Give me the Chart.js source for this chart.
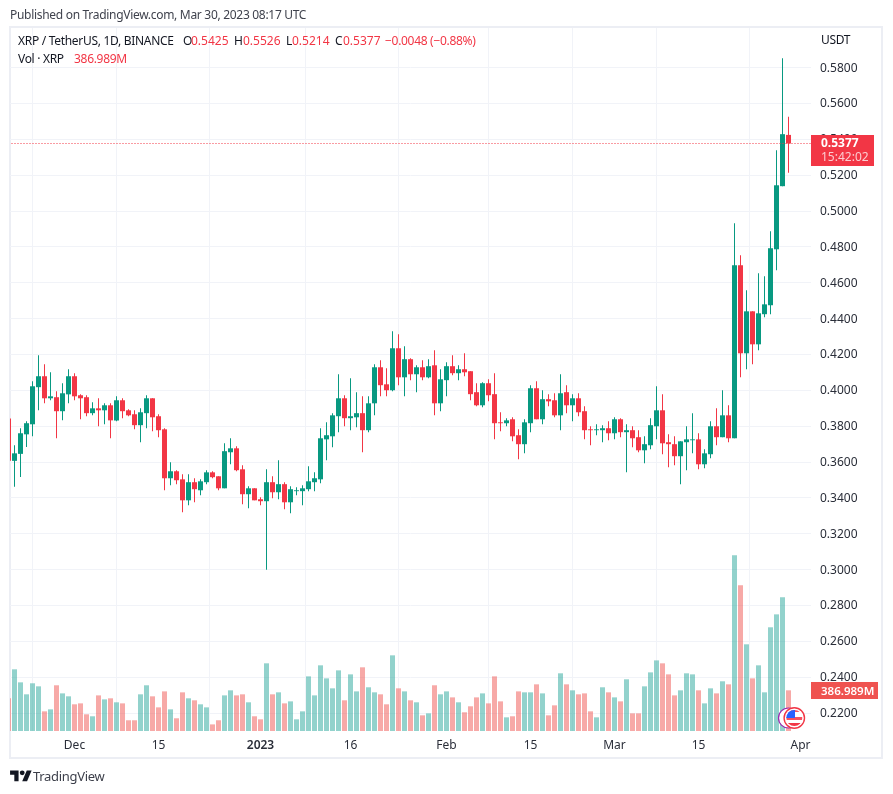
<!DOCTYPE html>
<html>
<head>
<meta charset="utf-8">
<title>XRP / TetherUS</title>
<script src="https://cdn.jsdelivr.net/npm/chart.js@4"></script>
<style>
	html, body { margin: 0; padding: 0; background: #fff; }
	body { width: 893px; height: 794px; position: relative; overflow: hidden; font-family: "Noto Sans", sans-serif; color: #131722; }
	#chart { position: absolute; left: 0; top: 0; }
	#frame { position: absolute; left: 9px; top: 26px; width: 870px; height: 729px; border: 2px solid #eceef4; }
	.t { position: absolute; font-size: 12px; line-height: 16px; white-space: nowrap; }
	.n { letter-spacing: -0.3px; }
	.up { color: #f23645; }
	#flag { position: absolute; left: 777px; top: 705px; }
	#logo { position: absolute; left: 10px; top: 768px; }
</style>
</head>
<body>
<div id="frame"></div>
<canvas id="chart" width="893" height="794"></canvas>

<div class="t n" style="left:10px;top:7px;color:#3f424d">Published on TradingView.com, Mar 30, 2023 08:17 UTC</div>
<div class="t n" style="left:18px;top:33px">XRP / TetherUS, 1D, BINANCE</div>
<div class="t" style="left:183px;top:33px">O</div>
<div class="t up" style="left:191px;top:33px">0.5425</div>
<div class="t" style="left:234px;top:33px">H</div>
<div class="t up" style="left:243px;top:33px">0.5526</div>
<div class="t" style="left:286px;top:33px">L</div>
<div class="t up" style="left:292px;top:33px">0.5214</div>
<div class="t" style="left:335px;top:33px">C</div>
<div class="t up" style="left:343px;top:33px">0.5377</div>
<div class="t n up" style="left:385px;top:33px">−0.0048 (−0.88%)</div>
<div class="t n" style="left:18px;top:51px">Vol · XRP</div>
<div class="t n up" style="left:74px;top:51px">386.989M</div>
<div class="t n" style="left:821px;top:32px">USDT</div>

<svg id="flag" width="32" height="26" viewBox="0 0 32 26">
	<circle cx="11.5" cy="13" r="10" fill="#fff" stroke="#9c27b0" stroke-width="1.2"/>
	<circle cx="17.3" cy="13" r="10.2" fill="#fff" stroke="#f23645" stroke-width="1.4"/>
	<clipPath id="fc"><circle cx="17.3" cy="13" r="8"/></clipPath>
	<g clip-path="url(#fc)">
		<rect x="8" y="12" width="18" height="3" fill="#f7525f"/>
		<rect x="8" y="18" width="18" height="3" fill="#f23645"/>
		<rect x="8" y="4" width="18" height="3" fill="#f7525f"/>
		<rect x="8" y="4" width="10" height="9" fill="#2962ff"/>
	</g>
</svg>

<svg id="logo" width="22" height="17" viewBox="0 0 36 28">
	<path d="M14 22H7V11H0V4h14v18zM28 22h-8l7.5-18h8L28 22z" fill="#131722"/>
	<circle cx="20" cy="8" r="4" fill="#131722"/>
</svg>
<div class="t n" style="left:33px;top:767px;font-size:13px;line-height:18px;color:#3c3f4a">TradingView</div>

<script>
// one entry per day, first one is Nov 20 (cut off by the left edge)
const opens = [
	0.3843, 0.3607, 0.3646, 0.3755, 0.3811, 0.4018, 0.4079, 0.3956, 0.3962, 0.3884, 0.3978, 0.4079, 0.3973, 0.3962,
	0.3873, 0.3900, 0.3889, 0.3917, 0.3832, 0.3945, 0.3889, 0.3867, 0.3806, 0.3873, 0.3956, 0.3856, 0.3783, 0.3510,
	0.3549, 0.3504, 0.3387, 0.3488, 0.3443, 0.3488, 0.3543, 0.3521, 0.3454, 0.3655, 0.3677, 0.3560, 0.3421, 0.3454,
	0.3393, 0.3382, 0.3488, 0.3432, 0.3477, 0.3376, 0.3438, 0.3438, 0.3449, 0.3488, 0.3504, 0.3727, 0.3744, 0.3856,
	0.3956, 0.3845, 0.3850, 0.3873, 0.3778, 0.3928, 0.4129, 0.4034, 0.4001, 0.4235, 0.4073, 0.4174, 0.4090, 0.4129,
	0.4073, 0.4140, 0.3928, 0.4057, 0.4135, 0.4096, 0.4118, 0.4107, 0.3990, 0.3917, 0.4040, 0.3979, 0.3822, 0.3817,
	0.3839, 0.3750, 0.3700, 0.3817, 0.4012, 0.3839, 0.3951, 0.3945, 0.3861, 0.3990, 0.3917, 0.3956, 0.3884, 0.3783,
	0.3778, 0.3778, 0.3789, 0.3761, 0.3839, 0.3767, 0.3778, 0.3739, 0.3666, 0.3694, 0.3800, 0.3889, 0.3711, 0.3700,
	0.3633, 0.3711, 0.3722, 0.3727, 0.3588, 0.3644, 0.3800, 0.3739, 0.3861, 0.3733, 0.4698, 0.4207, 0.4441, 0.4257,
	0.4425, 0.4475, 0.4787, 0.5139, 0.5425
];
const highs = [
	0.3843, 0.3694, 0.3789, 0.3828, 0.4051, 0.4196, 0.4146, 0.4101, 0.3995, 0.4040, 0.4118, 0.4096, 0.3978, 0.3973,
	0.3934, 0.3956, 0.3928, 0.3928, 0.3967, 0.3956, 0.3895, 0.3889, 0.3900, 0.3973, 0.3956, 0.3867, 0.3789, 0.3599,
	0.3555, 0.3532, 0.3532, 0.3510, 0.3504, 0.3555, 0.3549, 0.3521, 0.3705, 0.3733, 0.3688, 0.3583, 0.3465, 0.3454,
	0.3404, 0.3560, 0.3521, 0.3610, 0.3488, 0.3465, 0.3460, 0.3471, 0.3577, 0.3544, 0.3789, 0.3822, 0.3873, 0.4090,
	0.3973, 0.4068, 0.3990, 0.3967, 0.3967, 0.4146, 0.4168, 0.4123, 0.4330, 0.4313, 0.4246, 0.4179, 0.4140, 0.4168,
	0.4174, 0.4224, 0.4118, 0.4157, 0.4196, 0.4140, 0.4207, 0.4107, 0.4040, 0.4045, 0.4062, 0.4096, 0.3878, 0.3845,
	0.3850, 0.3783, 0.3839, 0.4029, 0.4051, 0.4001, 0.3978, 0.3984, 0.4090, 0.4029, 0.3978, 0.3984, 0.3912, 0.3800,
	0.3811, 0.3806, 0.3828, 0.3850, 0.3845, 0.3811, 0.3800, 0.3778, 0.3744, 0.3845, 0.4023, 0.3978, 0.3755, 0.3744,
	0.3716, 0.3800, 0.3873, 0.3761, 0.3672, 0.3828, 0.3900, 0.4001, 0.3917, 0.4932, 0.4754, 0.4558, 0.4441, 0.4653,
	0.4637, 0.4888, 0.5339, 0.5853, 0.5526
];
const lows = [
	0.3607, 0.3462, 0.3517, 0.3685, 0.3744, 0.3889, 0.3928, 0.3945, 0.3733, 0.3833, 0.3928, 0.3945, 0.3839, 0.3856,
	0.3861, 0.3800, 0.3811, 0.3733, 0.3828, 0.3845, 0.3856, 0.3783, 0.3711, 0.3789, 0.3772, 0.3739, 0.3443, 0.3471,
	0.3477, 0.3320, 0.3359, 0.3376, 0.3415, 0.3477, 0.3510, 0.3443, 0.3454, 0.3588, 0.3549, 0.3365, 0.3343, 0.3387,
	0.3359, 0.3000, 0.3399, 0.3393, 0.3337, 0.3315, 0.3415, 0.3360, 0.3438, 0.3438, 0.3482, 0.3610, 0.3683, 0.3767,
	0.3800, 0.3778, 0.3795, 0.3655, 0.3767, 0.3861, 0.3967, 0.3967, 0.3995, 0.4029, 0.3967, 0.4057, 0.3990, 0.4057,
	0.4068, 0.3861, 0.3884, 0.3967, 0.4084, 0.4057, 0.4079, 0.3945, 0.3912, 0.3906, 0.3939, 0.3727, 0.3772, 0.3800,
	0.3716, 0.3616, 0.3649, 0.3767, 0.3839, 0.3811, 0.3912, 0.3850, 0.3778, 0.3873, 0.3828, 0.3856, 0.3727, 0.3694,
	0.3750, 0.3711, 0.3722, 0.3727, 0.3739, 0.3543, 0.3683, 0.3655, 0.3594, 0.3672, 0.3727, 0.3644, 0.3571, 0.3583,
	0.3477, 0.3555, 0.3649, 0.3560, 0.3566, 0.3622, 0.3694, 0.3739, 0.3711, 0.3733, 0.4073, 0.4118, 0.4146, 0.4224,
	0.4408, 0.4425, 0.4670, 0.5139, 0.5214
];
const closes = [
	0.3607, 0.3649, 0.3761, 0.3817, 0.4023, 0.4079, 0.3956, 0.3967, 0.3884, 0.3984, 0.4079, 0.3967, 0.3956, 0.3873,
	0.3900, 0.3889, 0.3917, 0.3833, 0.3945, 0.3884, 0.3861, 0.3806, 0.3878, 0.3956, 0.3850, 0.3778, 0.3510, 0.3549,
	0.3499, 0.3387, 0.3488, 0.3449, 0.3493, 0.3543, 0.3516, 0.3454, 0.3661, 0.3677, 0.3555, 0.3421, 0.3454, 0.3387,
	0.3382, 0.3488, 0.3432, 0.3477, 0.3376, 0.3449, 0.3443, 0.3454, 0.3493, 0.3510, 0.3733, 0.3750, 0.3861, 0.3956,
	0.3845, 0.3856, 0.3873, 0.3778, 0.3928, 0.4129, 0.4029, 0.4001, 0.4235, 0.4073, 0.4174, 0.4090, 0.4129, 0.4073,
	0.4135, 0.3928, 0.4062, 0.4135, 0.4096, 0.4118, 0.4101, 0.3979, 0.3917, 0.4040, 0.3973, 0.3817, 0.3817, 0.3833,
	0.3744, 0.3700, 0.3822, 0.4012, 0.3839, 0.3951, 0.3939, 0.3861, 0.3984, 0.3917, 0.3956, 0.3878, 0.3778, 0.3778,
	0.3783, 0.3789, 0.3761, 0.3839, 0.3767, 0.3778, 0.3733, 0.3666, 0.3700, 0.3806, 0.3889, 0.3705, 0.3700, 0.3633,
	0.3716, 0.3727, 0.3727, 0.3588, 0.3649, 0.3800, 0.3739, 0.3861, 0.3733, 0.4698, 0.4207, 0.4441, 0.4257, 0.4430,
	0.4480, 0.4793, 0.5144, 0.5429, 0.5377
];
// volume in millions of XRP
const volumes = [
	311, 587, 463, 349, 454, 425, 187, 206, 435, 358, 330, 254, 263, 159, 140, 339, 301, 311, 273, 263, 102, 102,
	349, 435, 330, 225, 377, 206, 121, 368, 311, 292, 254, 225, 63, 102, 339, 387, 339, 349, 273, 140, 111, 644,
	349, 368, 263, 282, 111, 187, 520, 339, 625, 501, 406, 577, 292, 539, 377, 606, 416, 368, 349, 254, 720, 406,
	377, 292, 273, 149, 168, 435, 349, 377, 320, 273, 178, 235, 320, 358, 263, 520, 282, 130, 140, 377, 368, 368,
	444, 358, 149, 244, 549, 444, 387, 349, 358, 187, 130, 416, 368, 320, 282, 492, 168, 168, 425, 558, 672, 644,
	539, 339, 387, 549, 539, 387, 263, 406, 358, 473, 444, 1672, 1386, 825, 501, 625, 368, 987, 1110, 1272, 386.989
];

const priceTicks = [0.22, 0.24, 0.26, 0.28, 0.30, 0.32, 0.34, 0.36, 0.38, 0.40, 0.42, 0.44, 0.46, 0.48, 0.50, 0.52, 0.54, 0.56, 0.58];
const timeTickDays = [11, 25, 42, 57, 73, 87, 101, 115, 132];
const timeTickLabels = ["Dec", "15", "2023", "16", "Feb", "15", "Mar", "15", "Apr"];

const lastPrice = 0.5377;
const lastVolume = 386.989;
const countdown = "15:42:02";

const upColor = "#089981";
const downColor = "#f23645";
const upVolColor = "rgba(38,166,154,0.5)";
const downVolColor = "rgba(239,83,80,0.5)";
const gridColor = "#f1f3f8";
const fontName = '"Noto Sans", sans-serif';

const isDown = opens.map((o, i) => closes[i] < o);
const candleColors = isDown.map((d) => (d ? downColor : upColor));
const volumeColors = isDown.map((d) => (d ? downVolColor : upVolColor));

function drawTag(ctx, x, y, w, h, color) {
	ctx.fillStyle = color;
	ctx.fillRect(x, y, w, h);
}

// price and volume tags on the right axis
const lastValueTags = {
	id: "lastValueTags",
	afterDraw(chart) {
		const ctx = chart.ctx;
		const right = chart.chartArea.right;
		const priceY = chart.scales.y.getPixelForValue(lastPrice);
		const volY = chart.scales.yVol.getPixelForValue(lastVolume);
		ctx.save();
		drawTag(ctx, right, Math.round(priceY - 8.5), 63, 31, downColor);
		drawTag(ctx, right, Math.round(volY - 8), 67, 17, "#ef5350");
		ctx.textBaseline = "middle";
		ctx.textAlign = "left";
		ctx.fillStyle = "#fff";
		ctx.font = "bold 12px " + fontName;
		ctx.fillText(lastPrice.toFixed(4), right + 10, priceY + 0.5);
		ctx.font = "600 11.5px " + fontName;
		ctx.fillText(lastVolume.toFixed(3) + "M", right + 10, volY + 1);
		ctx.fillStyle = "rgba(255,255,255,0.75)";
		ctx.font = "12px " + fontName;
		ctx.fillText(countdown, right + 10, priceY + 14.5);
		ctx.restore();
	},
};

const days = opens.map((_, i) => i);

new Chart(document.getElementById("chart"), {
	type: "bar",
	data: {
		datasets: [
			{
				type: "line",
				data: [
					{ x: 0, y: lastPrice },
					{ x: 134, y: lastPrice },
				],
				borderColor: downColor,
				borderWidth: 1,
				borderDash: [1, 2],
				pointRadius: 0,
				yAxisID: "y",
			},
			{
				data: days.map((d, i) => ({ x: d, y: [opens[i], closes[i]] })),
				backgroundColor: candleColors,
				barThickness: 5,
				grouped: false,
				inflateAmount: 0,
				yAxisID: "y",
			},
			{
				data: days.map((d, i) => ({ x: d, y: [lows[i], highs[i]] })),
				backgroundColor: candleColors,
				barThickness: 1,
				grouped: false,
				inflateAmount: 0,
				yAxisID: "y",
			},
			{
				data: days.map((d, i) => ({ x: d, y: volumes[i] })),
				backgroundColor: volumeColors,
				barThickness: 5,
				grouped: false,
				inflateAmount: 0,
				yAxisID: "yVol",
			},
		],
	},
	options: {
		responsive: false,
		animation: false,
		events: [],
		devicePixelRatio: 1,
		layout: {
			padding: { left: 10, right: 11, top: 28, bottom: 36 },
		},
		plugins: {
			legend: { display: false },
			tooltip: { enabled: false },
		},
		scales: {
			x: {
				type: "linear",
				min: 0.25,
				max: 133.75,
				offset: false,
				afterBuildTicks: (axis) => {
					axis.ticks = timeTickDays.map((d) => ({ value: d }));
				},
				afterFit: (axis) => {
					axis.height = 27;
				},
				grid: { color: gridColor, drawTicks: false },
				border: { display: false },
				ticks: {
					autoSkip: false,
					maxRotation: 0,
					padding: 7,
					color: "#2a2e39",
					font: (c) => ({ family: fontName, size: 12, weight: c.tick && c.index === 2 ? "600" : "400" }),
					callback: (value, index) => timeTickLabels[index],
				},
			},
			y: {
				position: "right",
				min: 0.21004,
				max: 0.60212,
				afterBuildTicks: (axis) => {
					axis.ticks = priceTicks.map((v) => ({ value: v }));
				},
				afterFit: (axis) => {
					axis.width = 71;
				},
				grid: { color: gridColor, drawTicks: false },
				border: { display: false },
				ticks: {
					autoSkip: false,
					padding: 9,
					labelOffset: 0.5,
					color: "#2a2e39",
					font: { family: fontName, size: 12 },
					callback: (value) => value.toFixed(4),
				},
			},
			yVol: {
				display: false,
				min: 0,
				max: 6690,
			},
		},
	},
	plugins: [lastValueTags],
});
</script>
</body>
</html>
